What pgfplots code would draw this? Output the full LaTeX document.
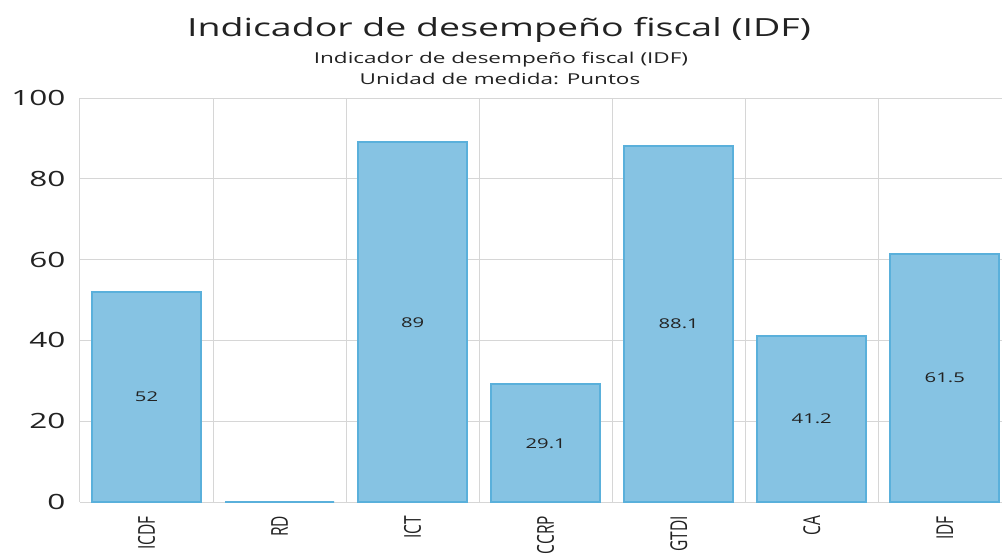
\documentclass[border=0pt]{standalone}
\usepackage{fontspec}
\setmainfont[FakeStretch=1.5]{Open Sans}
\newfontfamily\plainfont{Open Sans}
\usepackage{graphicx}
\usepackage{pgfplots}
\usepackage{pgfplotstable}
\pgfplotsset{compat=1.18}
\definecolor{barfill}{HTML}{86C3E3}
\definecolor{barline}{HTML}{5AB0DB}
\definecolor{gridc}{HTML}{D6D6D6}
\definecolor{txt}{HTML}{222222}

\pgfplotstableread{
x val lab
0 52 52
1 0 {}
2 89 89
3 29.1 29.1
4 88.1 88.1
5 41.2 41.2
6 61.5 61.5
}\idf

\begin{document}
\begin{tikzpicture}
\begin{axis}[
 scale only axis, width=922pt, height=404pt,
 xmin=-0.5, xmax=6.43, ymin=0, ymax=100,
 ytick={0,20,...,100},
 xtick={0,...,6},
 xticklabels={\scalebox{1}[1.5]{ICDF},\scalebox{1}[1.5]{RD},\scalebox{1}[1.5]{ICT},\scalebox{1}[1.5]{CCRP},\scalebox{1}[1.5]{GTDI},\scalebox{1}[1.5]{CA},\scalebox{1}[1.5]{IDF}},
 minor xtick={-0.5,0.5,1.5,2.5,3.5,4.5,5.5,6.5},
 xminorgrids=true, ymajorgrids=true, xmajorgrids=false,
 grid style={gridc, line width=1pt},
 minor grid style={gridc, line width=1pt},
 axis line style={draw=none},
 major tick length=0pt, minor tick length=0pt,
 /pgf/number format/assume math mode=true,
 yticklabel style={font=\fontsize{21}{21}\selectfont, text=txt, xshift=-11pt},
 xticklabel style={rotate=90, anchor=east, font=\plainfont\fontsize{15.5}{15.5}\selectfont, text=txt, xshift=-10.5pt},
]
\addplot[ybar, bar width=0.82, bar shift=0pt, fill=barfill, draw=barline, line width=2pt,
 nodes near coords, point meta=explicit symbolic,
 visualization depends on=y \as \rawy,
 every node near coord/.append style={anchor=center, font=\fontsize{13.5}{13.5}\selectfont, text=txt, shift={(axis direction cs:0,-\rawy/2)}}]
 table[x=x, y=val, meta=lab]{\idf};
\end{axis}
\node[font=\fontsize{25}{25}\selectfont, text=txt] at ([xshift=419pt, yshift=68pt]current axis.north west) {Indicador de desempeño fiscal (IDF)};
\node[font=\fontsize{15}{15}\selectfont, text=txt] at ([xshift=421pt, yshift=38pt]current axis.north west) {Indicador de desempeño fiscal (IDF)};
\node[font=\fontsize{15}{15}\selectfont, text=txt] at ([xshift=420pt, yshift=19pt]current axis.north west) {Unidad de medida: Puntos};
\pgfresetboundingbox
\useasboundingbox ([xshift=-80pt, yshift=-53pt]current axis.south west) rectangle ([yshift=98pt]current axis.north east);
\end{tikzpicture}
\end{document}
